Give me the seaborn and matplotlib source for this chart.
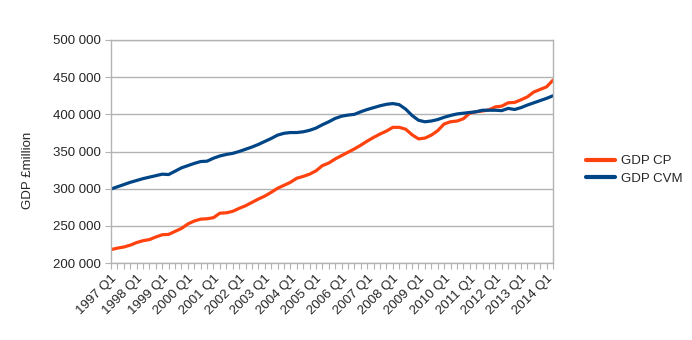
import matplotlib
matplotlib.use("Agg")
import matplotlib.pyplot as plt
import seaborn as sns
import pandas as pd
from matplotlib.ticker import FuncFormatter, FixedLocator

quarters = [f"{y} Q{q}" for y in range(1997, 2015) for q in range(1, 5)][:70]

gdp_cp = [218000, 220000, 221500, 224000, 227500, 230000, 231500, 235000, 238000, 238500,
          242500, 246500, 252500, 256500, 259000, 259500, 261000, 267000, 267500, 269500,
          273500, 277000, 281500, 286000, 290000, 295000, 300500, 304500, 308500, 314000,
          316500, 319500, 324000, 331000, 334500, 340000, 344500, 349000, 353500, 358500,
          364000, 369000, 373500, 377500, 382500, 382500, 380000, 372500, 367000, 368000,
          372000, 378000, 387000, 390000, 391000, 394000, 401500, 403500, 404500, 406000,
          410000, 411000, 415500, 416000, 419500, 423500, 430000, 433500, 437000, 446000]

gdp_cvm = [299500, 302500, 305500, 308500, 311000, 313500, 315500, 317500, 319500, 319000,
           323500, 328000, 331000, 334000, 336500, 337000, 341000, 344000, 346000, 347500,
           350000, 353000, 356000, 359500, 363500, 367500, 372000, 374500, 375500, 375500,
           376500, 378500, 381500, 386000, 390000, 394500, 397500, 399000, 400000, 403500,
           406500, 409000, 411500, 413500, 414500, 413000, 407000, 398500, 392000, 390000,
           391000, 393000, 396000, 398500, 400500, 401500, 402500, 403500, 405500, 405500,
           405500, 405000, 408000, 406500, 409000, 412500, 415500, 418500, 421500, 425000]

series_names = ["GDP CP", "GDP CVM"]
colors = ["#ff420e", "#004586"]

n = len(quarters)
df = pd.DataFrame({
    "idx": list(range(n)) * 2,
    "value": gdp_cp + gdp_cvm,
    "series": [series_names[0]] * n + [series_names[1]] * n,
})

sns.set_style("white")
plt.rcParams["font.family"] = ["Liberation Sans", "DejaVu Sans"]

fig = plt.figure(figsize=(6.92, 3.40), dpi=100)
ax = fig.add_axes([111 / 692, 1 - 263 / 340, (553 - 111) / 692, (263 - 40) / 340])

sns.lineplot(data=df, x="idx", y="value", hue="series", palette=colors,
             linewidth=2.3, ax=ax, legend=True)

ax.set_xlim(0, n - 1)
ax.set_ylim(200000, 500000)
ax.set_yticks(range(200000, 500001, 50000))
ax.yaxis.set_major_formatter(FuncFormatter(lambda v, p: f"{int(v):,}".replace(",", " ")))
ax.xaxis.set_major_locator(FixedLocator(list(range(n))))
labels = [q if i % 4 == 0 else "" for i, q in enumerate(quarters)]
ax.set_xticklabels(labels, rotation=45, ha="right", rotation_mode="anchor", fontsize=9.5)
ax.tick_params(axis="y", labelsize=9.5, length=4, color="#b3b3b3", direction="out", left=True, pad=3)
ax.tick_params(axis="x", length=4, color="#b3b3b3", direction="out", bottom=True, pad=3)

ax.grid(axis="y", color="#b3b3b3", linewidth=1)
ax.set_axisbelow(True)
for s in ["left", "right", "bottom", "top"]:
    ax.spines[s].set_color("#b3b3b3")
    ax.spines[s].set_linewidth(1)
ax.set_xlabel("")
ax.set_ylabel("")

fig.text(28 / 692, 0.5, "GDP £million", rotation=90, va="center", ha="center", fontsize=9.5)

handles, lbls = ax.get_legend_handles_labels()
ax.legend(handles, lbls, loc="center left", bbox_to_anchor=(586 / 692, 170 / 340),
          bbox_transform=fig.transFigure, frameon=False, fontsize=9.5,
          handlelength=2.2, handletextpad=0.45, labelspacing=0.4, borderpad=0,
          borderaxespad=0)
for line in ax.get_legend().get_lines():
    line.set_linewidth(3)

fig.savefig("out.png", dpi=100)
